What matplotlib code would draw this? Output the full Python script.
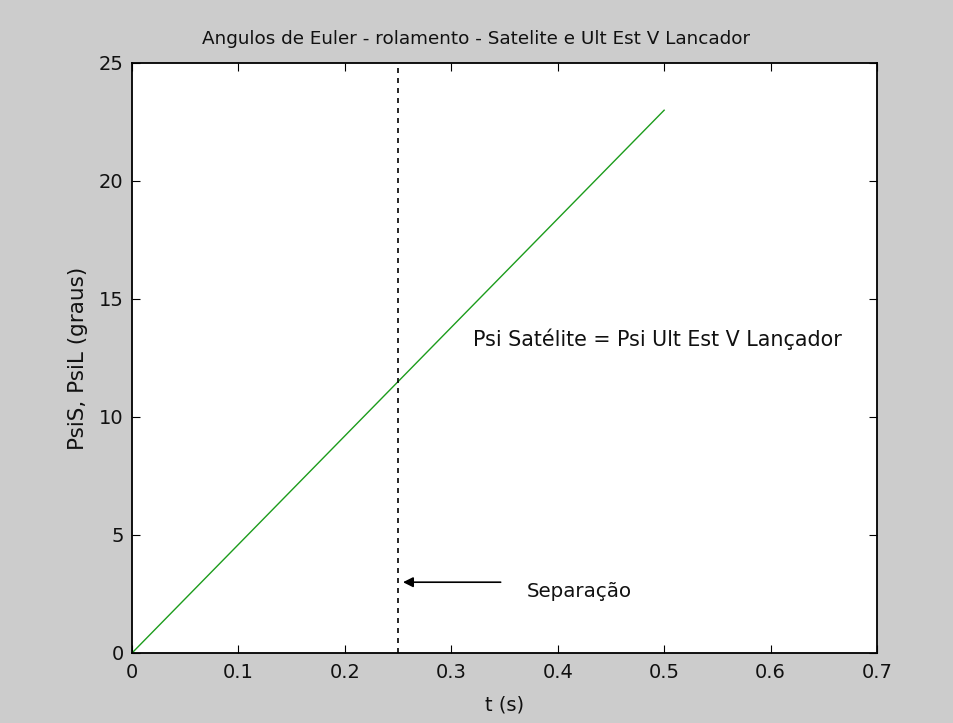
import matplotlib
matplotlib.use("Agg")
import matplotlib.pyplot as plt

t = [0.0, 0.25, 0.5]
psi = [0.0, 11.5, 23.0]
t_sep = 0.25
xticks = [0, 0.1, 0.2, 0.3, 0.4, 0.5, 0.6, 0.7]
yticks = [0, 5, 10, 15, 20, 25]

plt.rcParams['font.family'] = ['DejaVu Sans']
fig = plt.figure(figsize=(9.54, 7.23), dpi=100, facecolor='#cccccc')
ax = fig.add_axes([132/954, 1-653/723, (877-132)/954, (653-63)/723])
ax.set_facecolor('white')
ax.plot(t, psi, color='#1c9c1c', lw=1)
ax.axvline(t_sep, color='black', ls=(0, (3, 3)), lw=1.2)
ax.annotate('', xy=(0.252, 3.0), xytext=(0.349, 3.0),
            arrowprops=dict(arrowstyle='-|>', color='black', lw=1.2, mutation_scale=15))
ax.text(0.371, 2.6, 'Separação', fontsize=14.3, va='center', ha='left', color='#111111')
ax.text(0.32, 13.3, 'Psi Satélite = Psi Ult Est V Lançador', fontsize=14.9, va='center', ha='left', color='#111111')
ax.set_xlim(0, 0.7)
ax.set_ylim(0, 25)
ax.set_xticks(xticks)
ax.set_xticklabels(['0', '0.1', '0.2', '0.3', '0.4', '0.5', '0.6', '0.7'])
ax.set_yticks(yticks)
ax.tick_params(direction='in', top=True, right=True, labelsize=14, length=6, labelcolor='#111111')
ax.tick_params(axis='x', pad=7)
ax.tick_params(axis='y', pad=6)
for s in ax.spines.values():
    s.set_linewidth(1.3)
ax.set_xlabel('t (s)', fontsize=14, color='#111111', labelpad=10)
ax.set_ylabel('PsiS, PsiL (graus)', fontsize=15.5, color='#111111', labelpad=8)
ax.set_title('Angulos de Euler - rolamento - Satelite e Ult Est V Lancador', fontsize=13.2, pad=14,
             color='#111111', x=(476 - 132) / 745)
fig.savefig('out.png', dpi=100, facecolor=fig.get_facecolor())
